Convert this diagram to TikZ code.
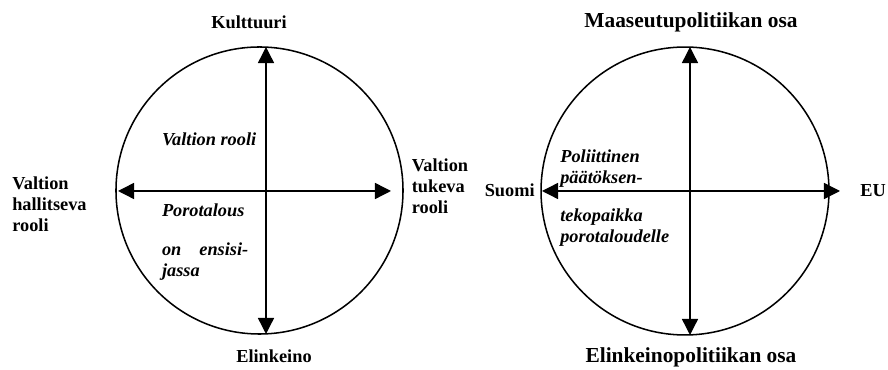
\documentclass[tikz,border=0pt]{standalone}
\usepackage{fontspec}
\setmainfont{Liberation Serif}
\usepackage{tikz}
\usetikzlibrary{arrows.meta,positioning}

\begin{document}
\begin{tikzpicture}[x=0.655pt,y=-0.655pt,
    otsikko/.style={font=\fontsize{12}{13.8}\selectfont\bfseries,inner sep=0pt},
    isootsikko/.style={font=\fontsize{14}{16}\selectfont\bfseries,inner sep=0pt},
    kursiivi/.style={font=\fontsize{12}{13.8}\selectfont\bfseries\itshape,inner sep=0pt},
    nuoli/.style={{Triangle[length=10.5pt,width=10.5pt]}-{Triangle[length=10.5pt,width=10.5pt]},
                  line width=0.9pt},
    ympyra/.style={circle,draw,line width=1pt,inner sep=0pt}]
  \useasboundingbox (0,0) rectangle (888,370);

  % Vasen ympyra
  \node[ympyra,minimum size=188pt] (c1) at (259.5,190.5) {};
  \coordinate (c1n) at (266,47);
  \coordinate (c1s) at (266,334);
  \coordinate (c1w) at (118,191);
  \coordinate (c1e) at (391,191);
  \draw[nuoli] (c1n) -- (c1s);
  \draw[nuoli] (c1w) -- (c1e);

  % Oikea ympyra
  \node[ympyra,minimum size=188.6pt] (c2) at (685,191) {};
  \coordinate (c2n) at (690,47);
  \coordinate (c2s) at (690,335);
  \coordinate (c2w) at (542,191);
  \coordinate (c2e) at (840,191);
  \draw[nuoli] (c2n) -- (c2s);
  \draw[nuoli] (c2w) -- (c2e);

  % Vasemman ympyran tekstit (moniriviset: ankkuri viimeisen rivin pohjaan)
  \node[otsikko,anchor=base] (kult) at (249,29) {Kulttuuri};
  \node[otsikko,anchor=base] (elin) at (274,363) {Elinkeino};
  \node[otsikko,anchor=base west,align=left] (hall) at (12,231.5)
    {Valtion\\hallitseva\\rooli};
  \node[otsikko,anchor=base west,align=left] (tuke) at (411.5,214)
    {Valtion\\tukeva\\rooli};
  \node[kursiivi,anchor=base west] (vrooli) at (161.7,146) {Valtion rooli};
  \node[kursiivi,anchor=base west,align=left] (poro) at (161.7,276.5)
    {Porotalous\\[11.7pt]\makebox[56.5pt][s]{on\hfill ensisi-}\\jassa};

  % Oikean ympyran tekstit
  \node[isootsikko,anchor=base] (maas) at (691,28) {Maaseutupolitiikan osa};
  \node[isootsikko,anchor=base] (elpo) at (691,363) {Elinkeinopolitiikan osa};
  \node[otsikko,anchor=base east] (suomi) at (535,197) {Suomi};
  \node[otsikko,anchor=base west] (eu) at (860,197) {EU};
  \node[kursiivi,anchor=base west,align=left] (poli) at (560,184)
    {Poliittinen\\päätöksen-};
  \node[kursiivi,anchor=base west,align=left] (teko) at (560,243)
    {tekopaikka\\porotaloudelle};
\end{tikzpicture}
\end{document}
